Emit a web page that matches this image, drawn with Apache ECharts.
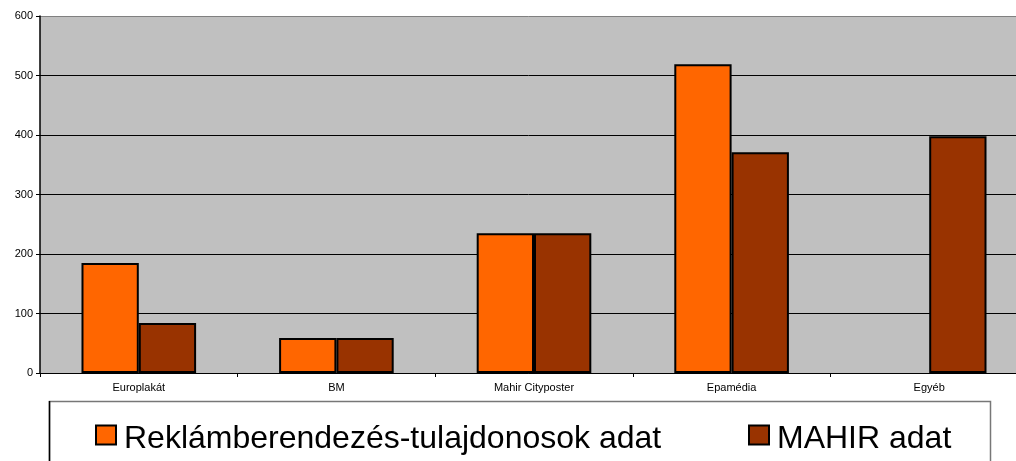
<!DOCTYPE html>
<html>
<head>
<meta charset="utf-8">
<script src="https://cdn.jsdelivr.net/npm/echarts@6/dist/echarts.min.js"></script>
<style>
  html, body { margin: 0; padding: 0; background: #fff; }
  #chart { width: 1016px; height: 461px; }
</style>
</head>
<body>
<div id="chart"></div>
<script>
// adatok
const categories = ['Europlakát', 'BM', 'Mahir Cityposter', 'Epamédia', 'Egyéb'];
const ownerData = [185, 59, 235, 519, null];
const mahirData = [84, 59, 235, 371, 398];
const seriesNames = ['Reklámberendezés-tulajdonosok adat', 'MAHIR adat'];

const chart = echarts.init(document.getElementById('chart'));

// közös jelmagyarázat-beállítások
const legendBase = {
  top: 423,
  padding: 0,
  itemWidth: 20,
  itemHeight: 19,
  icon: 'rect',
  formatter: '{t|{name}}',
  textStyle: {
    color: '#000',
    rich: { t: { fontSize: 32, color: '#000', padding: [8, 0, 0, 3] } }
  },
  itemStyle: { borderColor: '#000', borderWidth: 2 }
};

const option = {
  animation: false,
  textStyle: { fontFamily: 'Liberation Sans, Arial, sans-serif' },
  grid: {
    left: 40, top: 16, width: 988, height: 357,
    outerBoundsMode: 'none',
    show: true, backgroundColor: '#C0C0C0', borderWidth: 0
  },
  graphic: [
    {
      type: 'rect',
      shape: { x: 49.5, y: 401.5, width: 941, height: 80 },
      style: { fill: '#fff', stroke: '#777', lineWidth: 1.5 },
      z: 0
    },
    {
      type: 'line',
      shape: { x1: 49.5, y1: 401, x2: 49.5, y2: 461 },
      style: { stroke: '#000', lineWidth: 1.5 },
      z: 1
    }
  ],
  legend: [
    Object.assign({ data: [seriesNames[0]], left: 95 }, legendBase),
    Object.assign({ data: [seriesNames[1]], left: 748 }, legendBase)
  ],
  xAxis: {
    type: 'category',
    data: categories,
    axisLine: { lineStyle: { color: '#000', width: 1 } },
    axisTick: { show: true, length: 4, lineStyle: { color: '#000' } },
    axisLabel: { fontSize: 11, color: '#000', margin: 9 }
  },
  yAxis: {
    type: 'value',
    min: 0,
    max: 600,
    interval: 100,
    axisLine: { show: true, lineStyle: { color: '#000', width: 1.5 } },
    axisTick: { show: true, length: 4, lineStyle: { color: '#000' } },
    axisLabel: { fontSize: 11, color: '#000', margin: 7 },
    splitLine: { lineStyle: { color: ['#000', '#000', '#000', '#000', '#000', '#000', '#808080'], width: 1 } }
  },
  series: [
    {
      name: seriesNames[0],
      type: 'bar',
      data: ownerData,
      barGap: '0%',
      barCategoryGap: '42%',
      itemStyle: { color: '#FF6600', borderColor: '#000', borderWidth: 2 }
    },
    {
      name: seriesNames[1],
      type: 'bar',
      data: mahirData,
      itemStyle: { color: '#993300', borderColor: '#000', borderWidth: 2 }
    }
  ]
};

chart.setOption(option);
</script>
</body>
</html>
